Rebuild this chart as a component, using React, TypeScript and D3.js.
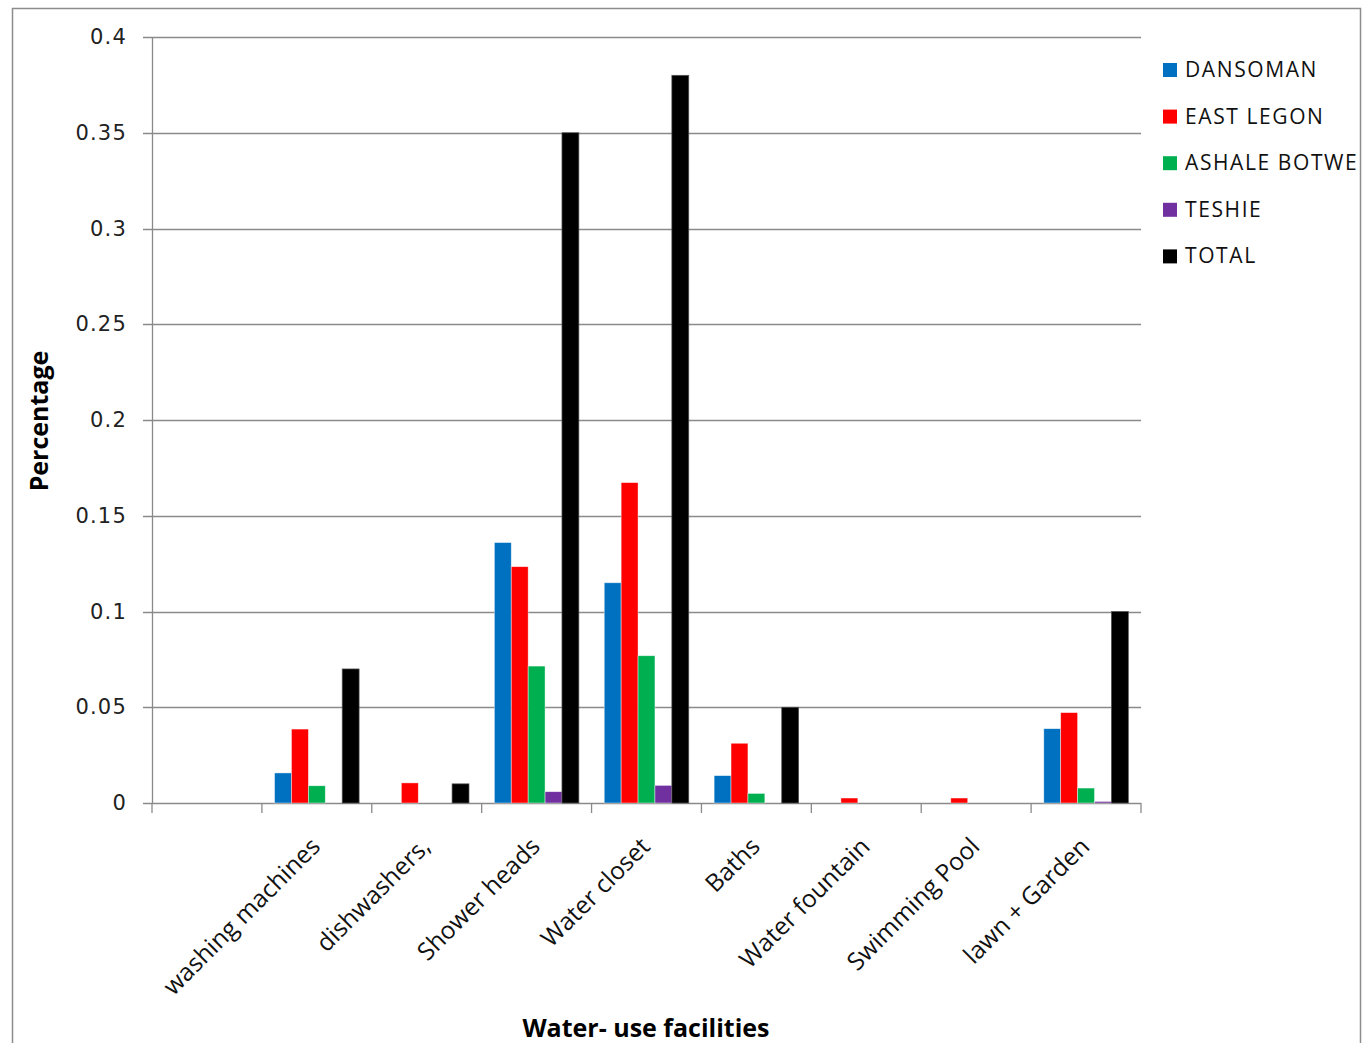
import React from "react";
import * as d3 from "d3";

const categories = ["", "washing machines", "dishwashers,", "Shower heads", "Water closet", "Baths", "Water fountain", "Swimming Pool", "lawn + Garden"];
const seriesNames = ["DANSOMAN", "EAST LEGON", "ASHALE BOTWE", "TESHIE", "TOTAL"];
const seriesColors = ["#0070C0", "#FF0000", "#00B050", "#7030A0", "#000000"];
const dansoman = [0, 0.0157, 0, 0.136, 0.115, 0.0143, 0, 0, 0.0388];
const eastLegon = [0, 0.0386, 0.0105, 0.1234, 0.1673, 0.0312, 0.0026, 0.0026, 0.0472];
const ashaleBotwe = [0, 0.009, 0, 0.0715, 0.0769, 0.005, 0, 0, 0.0078];
const teshie = [0, 0, 0, 0.0059, 0.0092, 0, 0, 0, 0.0008];
const total = [0, 0.07, 0.01, 0.35, 0.38, 0.05, 0, 0, 0.1];
const yTicks = [0, 0.05, 0.1, 0.15, 0.2, 0.25, 0.3, 0.35, 0.4];

const seriesValues = [dansoman, eastLegon, ashaleBotwe, teshie, total];

export default function App() {
  const W = 1371, H = 1043;
  const left = 152, right = 1141, top = 37, bottom = 803;
  const x = d3.scaleBand<string>().domain(categories.map((c, i) => String(i))).range([left, right]).padding(0);
  const inner = d3.scaleBand<string>().domain(seriesNames).range([0, x.bandwidth()]).paddingInner(0).paddingOuter(0.75);
  const y = d3.scaleLinear().domain([0, 0.4]).range([bottom, top]);
  const boundaries = d3.range(categories.length + 1).map(i => left + i * x.step());

  return (
    <svg width={W} height={H} style={{ position: "absolute", left: 0, top: 0, background: "#fff" }}>
      <rect x={12.5} y={8.5} width={1348} height={1060} fill="#fff" stroke="#8c8c8c" strokeWidth={1.5} />
      {yTicks.map(t => (
        <g key={t}>
          <line x1={left - 9} x2={right} y1={Math.round(y(t)) + 0.5} y2={Math.round(y(t)) + 0.5} stroke="#8a8a8a" strokeWidth={1.3} />
          <text x={127} y={y(t) + 7} textAnchor="end" fontFamily="DejaVu Sans" fontSize={21} letterSpacing={1.2} fill="#222">{String(t)}</text>
        </g>
      ))}
      <line x1={left + 0.5} x2={left + 0.5} y1={top} y2={bottom} stroke="#8a8a8a" strokeWidth={1.3} />
      {boundaries.map((b, i) => (
        <line key={i} x1={b} x2={b} y1={bottom} y2={bottom + 10} stroke="#8a8a8a" strokeWidth={1.3} />
      ))}
      {categories.map((c, ci) =>
        seriesValues.map((vals, si) => {
          const v = vals[ci];
          if (!v) return null;
          const bx = (x(String(ci)) as number) + (inner(seriesNames[si]) as number);
          return (
            <rect key={ci + "-" + si} x={bx} y={y(v)} width={inner.bandwidth()} height={bottom - y(v)}
              fill={seriesColors[si]} stroke={si === 4 ? "#555" : "rgba(255,255,255,0.6)"} strokeWidth={0.7} />
          );
        })
      )}
      {categories.map((c, ci) => {
        const cx = (x(String(ci)) as number) + x.bandwidth() / 2 + 5;
        return (
          <text key={ci} transform={`translate(${cx},${848}) rotate(-45)`} textAnchor="end"
            fontFamily="Open Sans" fontSize={24.5} fill="#111">{c}</text>
        );
      })}
      <text transform={`translate(48,421) rotate(-90)`} textAnchor="middle" fontFamily="Open Sans" fontWeight={700} fontSize={25} fill="#000">Percentage</text>
      <text x={646} y={1037} textAnchor="middle" fontFamily="Open Sans" fontWeight={700} fontSize={25} fill="#000">Water- use facilities</text>
      {seriesNames.map((s, i) => (
        <g key={s}>
          <rect x={1163} y={63 + i * 46.6} width={14} height={14} fill={seriesColors[i]} />
          <text x={1185} y={77 + i * 46.6} fontFamily="Open Sans" fontSize={21} letterSpacing={1.6} fill="#111">{s}</text>
        </g>
      ))}
    </svg>
  );
}
